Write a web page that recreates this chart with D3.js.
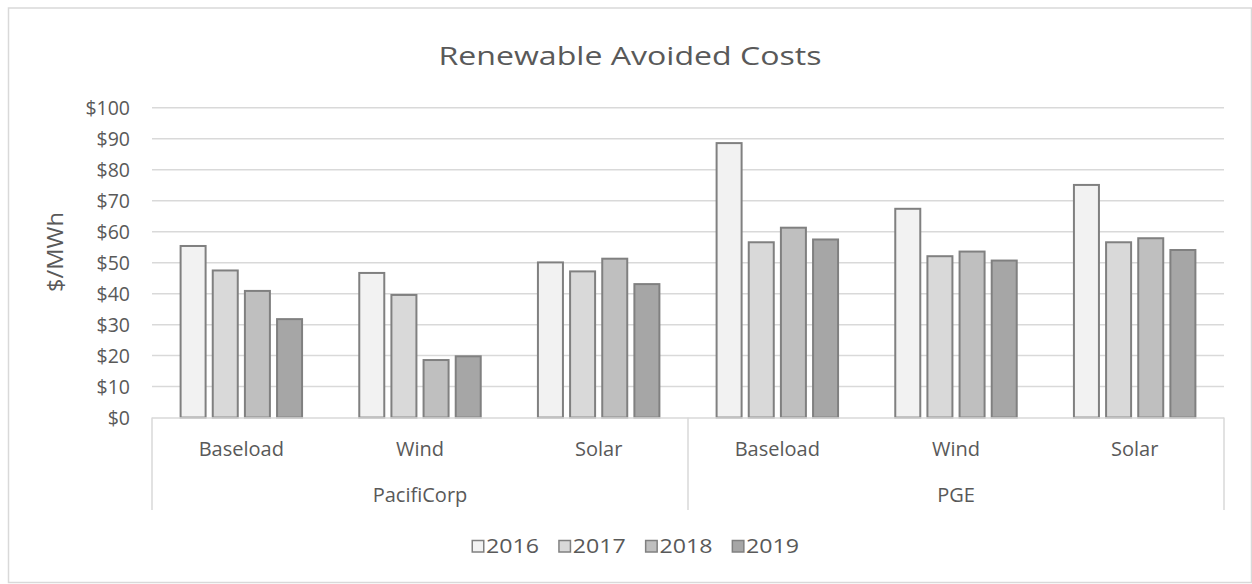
<!DOCTYPE html>
<html>
<head>
<meta charset="utf-8">
<script src="https://cdn.jsdelivr.net/npm/d3@7"></script>
<style>
  html, body { margin: 0; padding: 0; background: #fff; }
  svg { display: block; }
  text { font-family: "Open Sans", "Noto Sans", sans-serif; fill: #595959; }
</style>
</head>
<body>
<svg id="chart" width="1252" height="584"></svg>
<script>
// ---- data ----
const groups = ["PacifiCorp", "PGE"];
const types = ["Baseload", "Wind", "Solar"];
const years = ["2016", "2017", "2018", "2019"];
const v2016 = [55.7, 47.0, 50.4, 88.9, 67.7, 75.4];
const v2017 = [47.8, 39.9, 47.5, 56.9, 52.4, 56.9];
const v2018 = [41.2, 18.9, 51.6, 61.6, 53.9, 58.2];
const v2019 = [32.1, 20.1, 43.4, 57.8, 51.0, 54.4];
const yTicks = [0, 10, 20, 30, 40, 50, 60, 70, 80, 90, 100];
const title = "Renewable Avoided Costs";
const yTitle = "$/MWh";

// ---- styles ----
const fills = ["#f2f2f2", "#d9d9d9", "#bfbfbf", "#a6a6a6"];
const barStroke = "#808080";
const gridColor = "#d9d9d9";

const svg = d3.select("#chart");
const seriesVals = [v2016, v2017, v2018, v2019];

const cats = [];
groups.forEach(g => types.forEach(t => cats.push(g + "|" + t)));

const plot = { left: 152, right: 1224, top: 107.7, bottom: 417.6 };

const x0 = d3.scaleBand().domain(cats).range([plot.left, plot.right]).paddingInner(0).paddingOuter(0);
const x1 = d3.scaleBand().domain(years).range([27.6, x0.bandwidth() - 27.6]).paddingInner(0.16).paddingOuter(0);
const y = d3.scaleLinear().domain([0, 100]).range([plot.bottom, plot.top]);

// chart border
svg.append("rect").attr("x", 8.5).attr("y", 8).attr("width", 1243).attr("height", 574.5)
  .attr("fill", "none").attr("stroke", gridColor).attr("stroke-width", 1.5);

// title
svg.append("text").attr("x", 630).attr("y", 64.5).attr("text-anchor", "middle")
  .attr("font-size", 26).attr("textLength", 383).attr("lengthAdjust", "spacingAndGlyphs")
  .text(title);

// y axis labels
const yAxis = d3.axisLeft(y).tickValues(yTicks).tickFormat(d => "$" + d).tickSize(0).tickPadding(0);
const gy = svg.append("g").attr("transform", `translate(130,0)`).call(yAxis);
gy.select(".domain").remove();
gy.selectAll("text").attr("font-size", 19.5).attr("fill", "#595959")
  .style("font-family", '"Open Sans", sans-serif').attr("dy", "0.34em").attr("x", 0);

// gridlines
svg.append("g").selectAll("line").data(yTicks.filter(d => d > 0)).join("line")
  .attr("x1", plot.left).attr("x2", plot.right)
  .attr("y1", d => y(d)).attr("y2", d => y(d))
  .attr("stroke", gridColor).attr("stroke-width", 1.5);

// y title
svg.append("text").attr("transform", "translate(63,252) rotate(-90)")
  .attr("text-anchor", "middle").attr("font-size", 22)
  .attr("textLength", 80).attr("lengthAdjust", "spacingAndGlyphs")
  .text(yTitle);

// bars
const barG = svg.append("g");
cats.forEach((c, ci) => {
  years.forEach((yr, si) => {
    const val = seriesVals[si][ci];
    const bx = x0(c) + x1(yr);
    barG.append("rect")
      .attr("x", bx + 1).attr("width", x1.bandwidth() - 2)
      .attr("y", y(val) + 1).attr("height", y(0) - y(val) - 1)
      .attr("fill", fills[si]).attr("stroke", barStroke).attr("stroke-width", 2);
  });
});

// category axis line
svg.append("line").attr("x1", plot.left).attr("x2", plot.right)
  .attr("y1", plot.bottom + 0.5).attr("y2", plot.bottom + 0.5)
  .attr("stroke", gridColor).attr("stroke-width", 1.5);

// group separators
const sepX = [plot.left, x0(groups[1] + "|" + types[0]), plot.right];
svg.append("g").selectAll("line").data(sepX).join("line")
  .attr("x1", d => d).attr("x2", d => d)
  .attr("y1", plot.bottom).attr("y2", 510)
  .attr("stroke", gridColor).attr("stroke-width", 1.5);

// category labels
svg.append("g").selectAll("text").data(cats).join("text")
  .attr("x", d => x0(d) + x0.bandwidth() / 2).attr("y", 456)
  .attr("text-anchor", "middle").attr("font-size", 20)
  .text(d => d.split("|")[1]);

// group labels
svg.append("g").selectAll("text").data(groups).join("text")
  .attr("x", g => {
    const a = x0(g + "|" + types[0]);
    const b = x0(g + "|" + types[types.length - 1]) + x0.bandwidth();
    return (a + b) / 2;
  })
  .attr("y", 502).attr("text-anchor", "middle").attr("font-size", 20)
  .text(g => g);

// legend
const legStart = 471.5, legStep = 86.7;
const lg = svg.append("g");
years.forEach((yr, i) => {
  const lx = legStart + i * legStep;
  lg.append("rect").attr("x", lx + 0.75).attr("y", 540.5).attr("width", 11.5).attr("height", 11.5)
    .attr("fill", fills[i]).attr("stroke", barStroke).attr("stroke-width", 1.5);
  lg.append("text").attr("x", lx + 14.5).attr("y", 553.3).attr("font-size", 19.5)
    .attr("textLength", 53).attr("lengthAdjust", "spacingAndGlyphs").text(yr);
});
</script>
</body>
</html>
